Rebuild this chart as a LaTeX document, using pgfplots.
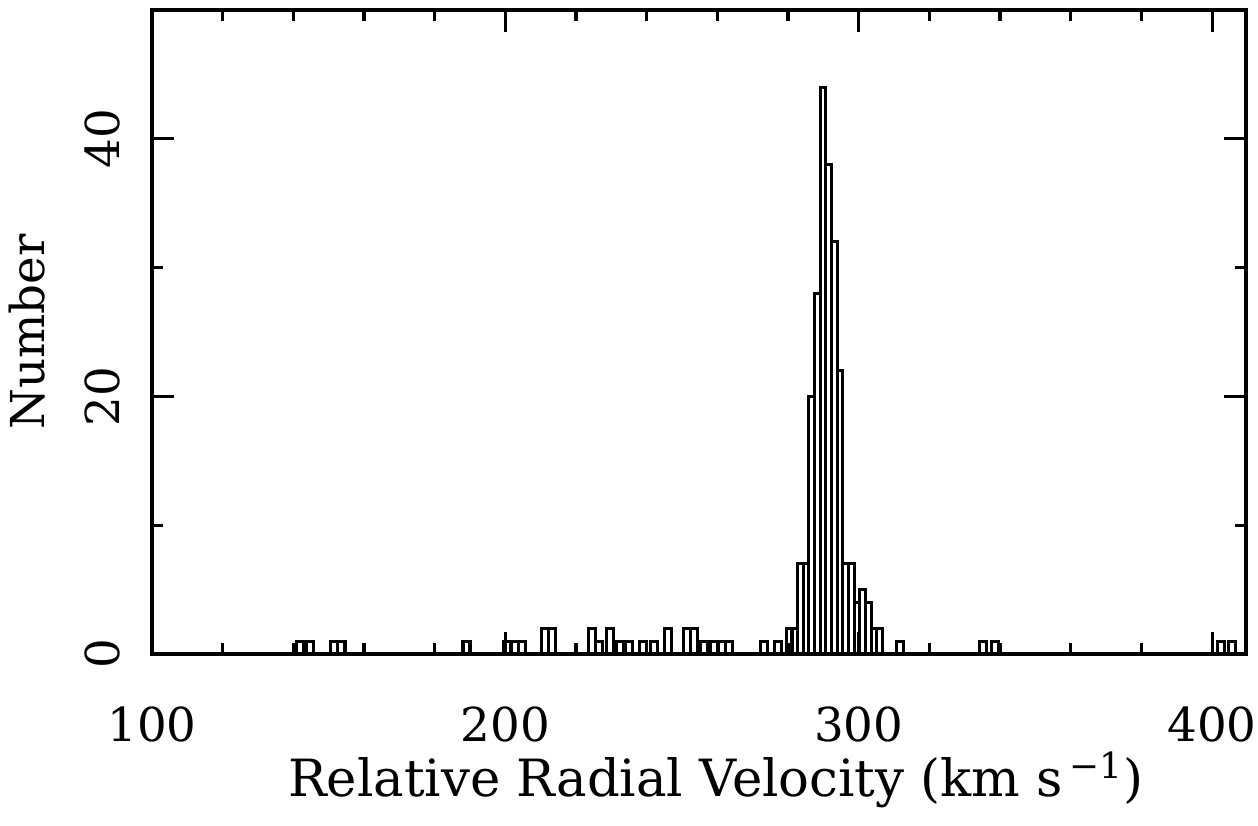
\documentclass[border=0pt]{standalone}
\usepackage{fontspec}
\setmainfont{DejaVu Serif}
\usepackage{pgfplots}
\pgfplotsset{compat=1.18}
\begin{document}
\begin{tikzpicture}
\path[use as bounding box] (0,0) rectangle (12.58cm,8.26cm);
\begin{axis}[
  at={(1.52cm,1.72cm)}, anchor=south west,
  scale only axis, width=10.94cm, height=6.44cm,
  xmin=100, xmax=409.6, ymin=0, ymax=50,
  xtick={100,200,300,400},
  minor xtick={120,140,160,180,220,240,260,280,320,340,360,380},
  ytick={0,20,40}, minor ytick={10,30},
  tick align=inside, xtick pos=both, ytick pos=both,
  major tick length=0.22cm, minor tick length=0.11cm,
  axis line style={line width=0.9pt},
  every tick/.append style={black, line width=0.9pt},
  /pgf/number format/assume math mode=true,
  tick label style={font=\fontsize{13.3}{16}\selectfont},
  xticklabel style={anchor=base, yshift=-0.88cm},
  yticklabel style={rotate=90, anchor=base, yshift=0.32cm},
  label style={font=\fontsize{13.3}{16}\selectfont},
  xlabel={Relative Radial Velocity (km s\textsuperscript{\,−1})},
  xlabel style={font=\fontsize{14.6}{17}\selectfont, at={(axis description cs:0.5,0)}, anchor=base, yshift=-1.43cm, xshift=0.17cm},
  ylabel={Number},
  ylabel style={at={(axis description cs:0,0.5)}, anchor=base, yshift=1.07cm},
]
% outer bars
\addplot[ybar, bar shift=0pt, bar width=2.0, draw=black, fill=none, line width=0.9pt] coordinates {
(141.9,1) (144.6,1) (151.6,1) (153.6,1) (189.0,1)
(200.6,1) (202.6,1) (204.6,1)
(211.3,2) (213.3,2)
(224.6,2) (226.6,1) (229.6,2)
(232.5,1) (235.0,1) (239.0,1) (242.1,1)
(246.1,2) (251.4,2) (253.4,2)
(256.2,1) (259.1,1) (261.2,1) (263.3,1)
(273.1,1) (277.2,1)
(311.6,1) (335.1,1) (338.5,1) (402.6,1) (405.7,1)
};
% peak bars
\addplot[ybar, bar shift=0pt, bar width=1.6, draw=black, fill=none, line width=0.9pt] coordinates {
(280.3,2) (281.9,2) (283.5,7) (285.1,7) (286.7,20) (288.3,28) (289.9,44)
(291.5,38) (293.1,32) (294.7,22) (296.3,7) (297.9,7) (299.5,4) (301.1,5)
(302.7,4) (304.3,2) (305.9,2)
};
\end{axis}
\end{tikzpicture}
\end{document}
